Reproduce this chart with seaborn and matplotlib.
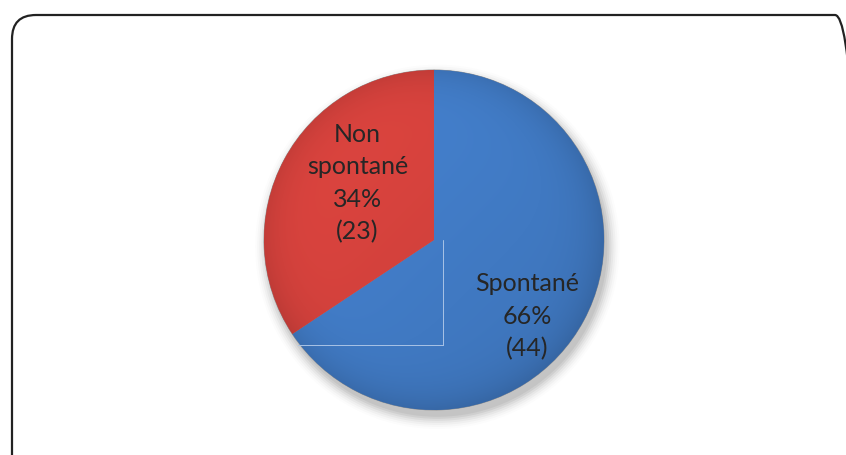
import numpy as np
import matplotlib.pyplot as plt
import seaborn as sns
from matplotlib.patches import FancyBboxPatch, Circle
import matplotlib.colors as mcolors

sns.set_style('white')
plt.rcParams['font.family'] = ['Lato', 'DejaVu Sans']

# Data
categories = ['Spontané', 'Non spontané']
counts = [44, 23]
percents = ['66%', '34%']
colors = ['#4079c2', '#cf403b']

fig = plt.figure(figsize=(8.46, 4.55), dpi=100)

# rounded frame around the chart, in figure fraction (runs off right and bottom edges)
W, H = 846, 455
frame = FancyBboxPatch((12 / W, -40 / H), 847 / W, (H - 15 + 40) / H,
                       boxstyle='round,pad=0,rounding_size=%f' % (24 / W),
                       mutation_aspect=W / H,
                       transform=fig.transFigure, facecolor='none',
                       edgecolor='#222222', linewidth=1.6, zorder=10)
fig.patches.append(frame)

# pie axes: center (434, 240), radius 170 px
ax = fig.add_axes([(434 - 170) / W, (H - 240 - 170) / H, 340 / W, 340 / H])

# soft shadow
for i, a in enumerate(np.linspace(0.06, 0.01, 7)):
    ax.add_patch(Circle((0.02, -0.04), 1.0 + i * 0.012, color='black', alpha=a,
                        lw=0, zorder=0, clip_on=False))

wedges, _ = ax.pie(counts, colors=colors, startangle=90, counterclock=False,
                   radius=1.0, wedgeprops=dict(linewidth=0.6, edgecolor='#8f8f8f'))

# shading overlay clipped to each wedge
xx, yy = np.meshgrid(np.linspace(-1, 1, 400), np.linspace(1, -1, 400))
rr = np.sqrt(xx ** 2 + yy ** 2)
light = 1.02 - 0.08 * (xx - yy) / 2 - 0.12 * np.clip(rr, 0, 1) ** 8
for w, c in zip(wedges, colors):
    base = np.array(mcolors.to_rgb(c))
    img = np.clip(base[None, None, :] * light[:, :, None], 0, 1)
    im = ax.imshow(img, extent=[-1, 1, -1, 1], zorder=2, interpolation='bilinear')
    im.set_clip_path(w)

# faint guide lines seen in the original rendering
ax.plot([0.053, 0.053], [0.0, -0.62], color='#a9c3e6', lw=0.7, zorder=3)
ax.plot([-0.80, 0.053], [-0.62, -0.62], color='#a9c3e6', lw=0.7, zorder=3)

label_pos = [(0.55, -0.45), (-0.45, 0.335)]
for (x, y), cat, pct, n in zip(label_pos, categories, percents, counts):
    txt = cat.replace('Non ', 'Non\n') + '\n' + pct + '\n(' + str(n) + ')'
    ax.text(x, y, txt, ha='center', va='center', fontsize=18, color='#262626',
            linespacing=1.5, zorder=5)

ax.set_xlim(-1, 1)
ax.set_ylim(-1, 1)
ax.set_aspect('auto')
ax.axis('off')
fig.savefig('out.png', dpi=100)
